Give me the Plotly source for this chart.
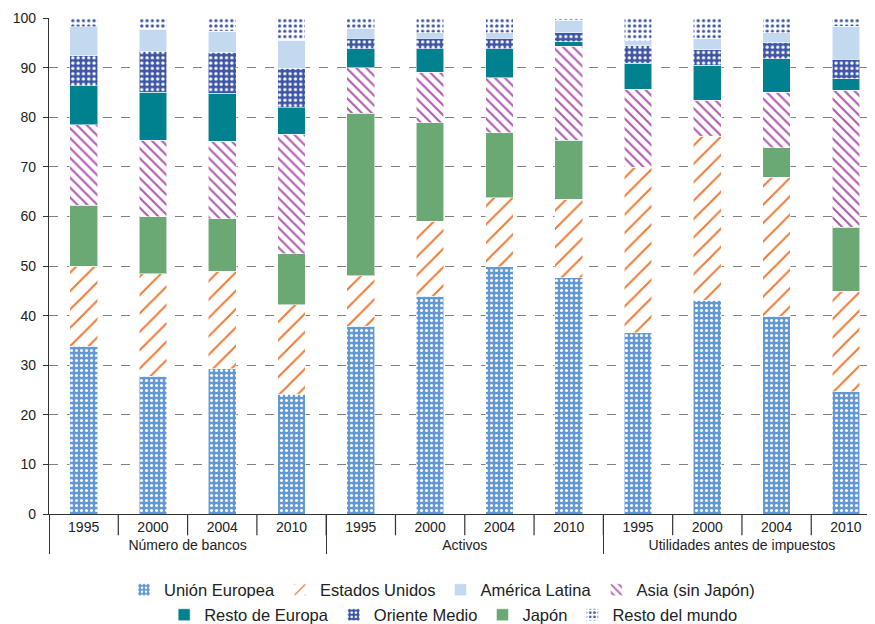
import plotly.graph_objects as go

groups = ["Número de bancos"] * 4 + ["Activos"] * 4 + ["Utilidades antes de impuestos"] * 4
years = ["1995", "2000", "2004", "2010"] * 3

union_europea = [33.8, 27.8, 29.3, 24.1, 37.9, 43.9, 49.9, 47.6, 36.5, 43.1, 39.9, 24.6]
estados_unidos = [16.2, 20.6, 19.6, 18.1, 10.1, 15.1, 13.9, 15.9, 33.4, 33.1, 28.0, 20.3]
japon = [12.2, 11.5, 10.6, 10.3, 32.8, 19.9, 13.1, 11.9, 0.0, 0.0, 5.9, 12.9]
asia = [16.3, 15.5, 15.7, 24.1, 9.2, 10.2, 11.1, 18.9, 15.7, 7.2, 11.2, 27.6]
resto_europa = [7.8, 9.6, 9.6, 5.3, 3.8, 4.7, 5.8, 0.9, 5.3, 7.1, 6.8, 2.4]
oriente_medio = [6.1, 8.3, 8.3, 8.0, 2.1, 2.1, 2.1, 1.8, 3.5, 3.1, 3.2, 3.9]
america_latina = [5.8, 4.4, 4.2, 5.6, 2.0, 1.1, 1.1, 2.5, 1.0, 2.2, 2.0, 6.6]
resto_mundo = [1.8, 2.3, 2.7, 4.5, 2.1, 3.0, 3.0, 0.5, 4.6, 4.2, 3.0, 1.7]

FONT = "Arial, Liberation Sans, sans-serif"
TXT = "#222222"
AX = "#333333"
EDGE = dict(color="rgba(255,255,255,0.55)", width=1)

series = [
    ("Unión Europea", union_europea,
     dict(shape=".", bgcolor="#6097d4", fgcolor="white", size=5, solidity=0.3), None, "legend", 1),
    ("Estados Unidos", estados_unidos,
     dict(shape="/", bgcolor="white", fgcolor="#ee7a35", size=13, solidity=0.15), None, "legend", 2),
    ("Japón", japon, None, "#6aa874", "legend2", 3),
    ("Asia (sin Japón)", asia,
     dict(shape="\\", bgcolor="white", fgcolor="#b05cb0", size=7, solidity=0.3), None, "legend", 4),
    ("Resto de Europa", resto_europa, None, "#00818f", "legend2", 1),
    ("Oriente Medio", oriente_medio,
     dict(shape=".", bgcolor="#3d55a5", fgcolor="white", size=5.3, solidity=0.3), None, "legend2", 2),
    ("América Latina", america_latina, None, "#c3d9f0", "legend", 3),
    ("Resto del mundo", resto_mundo,
     dict(shape=".", bgcolor="white", fgcolor="#3d55a5", size=5.3, solidity=0.3), None, "legend2", 4),
]

fig = go.Figure()
for name, vals, pat, col, leg, rank in series:
    marker = dict(line=EDGE)
    if pat is not None:
        marker["color"] = pat["bgcolor"]
        marker["pattern"] = dict(shape=pat["shape"], bgcolor=pat["bgcolor"], fgcolor=pat["fgcolor"],
                                 size=pat["size"], solidity=pat["solidity"], fillmode="replace")
    else:
        marker["color"] = col
    fig.add_trace(go.Bar(x=[groups, years], y=vals, name=name, marker=marker,
                         width=0.4, legend=leg, legendrank=rank))

# separators between year categories (below the axis)
n = len(years)
for i in range(n - 1):
    fig.add_shape(type="line", xref="x", yref="paper", x0=i + 0.5, x1=i + 0.5,
                  y0=0, y1=-0.043, line=dict(color=AX, width=1.2))

# page body has an 8px margin, so the figure is 8px smaller than the window
W, H = 867, 616
fig.update_layout(
    barmode="stack",
    width=W, height=H,
    margin=dict(l=41, r=0, t=10, b=110),
    paper_bgcolor="white", plot_bgcolor="white",
    font=dict(family=FONT, size=14, color=TXT),
    legend=dict(orientation="h", x=0.5006, xanchor="center", y=0.0552, yanchor="middle",
                xref="container", yref="container", font=dict(size=16.5, color=TXT),
                traceorder="normal", itemclick=False),
    legend2=dict(orientation="h", x=0.514, xanchor="center", y=0.0146, yanchor="middle",
                 xref="container", yref="container", font=dict(size=16.5, color=TXT),
                 traceorder="normal", itemclick=False),
)
fig.update_xaxes(
    type="multicategory",
    range=[-0.5, 11.42],
    automargin=False,
    showline=True, linecolor=AX, linewidth=1.2,
    ticks="",
    showdividers=True, dividercolor=AX, dividerwidth=1.2,
    tickfont=dict(size=14, color=TXT),
    showgrid=False,
)
fig.update_yaxes(
    range=[0, 100], dtick=10,
    automargin=False,
    showgrid=True, gridcolor="#808080", griddash="dash", gridwidth=1,
    showline=True, linecolor=AX, linewidth=1.2,
    ticks="outside", ticklen=5, tickcolor=AX,
    ticklabelstandoff=4,
    tickfont=dict(size=14, color=TXT),
    zeroline=False,
)

fig.write_html("out.html")
